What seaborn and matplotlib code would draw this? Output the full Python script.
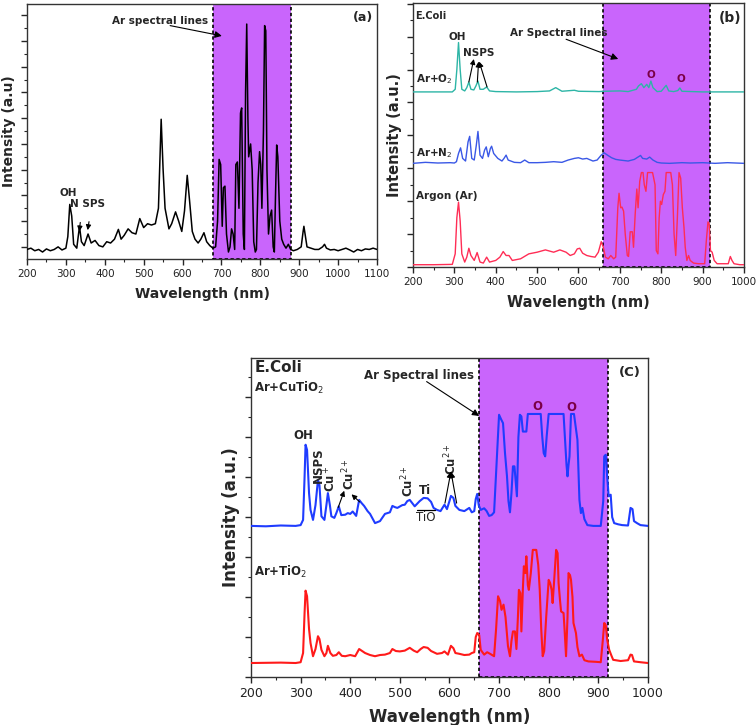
import numpy as np
import pandas as pd
import seaborn as sns
import matplotlib.pyplot as plt
from matplotlib.ticker import MultipleLocator

# ---- panel (a): Ar plasma, black trace ----
wl_a = [200, 210, 220, 230, 240, 250, 260, 270, 280, 290, 300, 305, 310, 315, 320, 328, 335, 340, 347,
        357, 365, 375, 385, 395, 405, 415, 425, 435, 442, 450, 460, 470, 480, 490, 500, 510, 520, 530,
        538, 545, 550, 555, 565, 572, 582, 590, 598, 605, 612, 618, 625, 632, 640, 647, 655, 662, 670,
        678, 685, 690, 694, 698, 702, 705, 709, 713, 718, 722, 726, 730, 734, 737, 741, 745, 749, 752,
        756, 759, 762, 765, 768, 770, 775, 779, 783, 787, 790, 794, 798, 801, 804, 808, 811, 814, 817,
        821, 825, 829, 833, 836, 839, 842, 845, 850, 855, 860, 866, 872, 878, 885, 895, 905, 910, 912,
        915, 920, 930, 940, 950, 960, 965, 970, 980, 990, 1000, 1010, 1020, 1030, 1040, 1050, 1060,
        1070, 1080, 1090, 1100]
int_a = [-0.1, -0.05, -0.15, -0.1, -0.2, -0.08, -0.15, -0.1, 0.0, -0.12, -0.05, 0.4, 1.65, 1.2, 0.1,
         -0.05, 0.8, 0.2, 0.05, 0.5, 0.15, 0.25, 0.05, 0.0, 0.2, 0.15, 0.3, 0.68, 0.3, 0.45, 0.7, 0.55,
         0.5, 1.1, 0.75, 0.9, 0.85, 0.9, 1.5, 4.96, 3.0, 1.5, 0.7, 0.9, 1.36, 1.0, 0.6, 1.4, 2.78, 1.8,
         0.6, 0.3, 0.15, 0.3, 0.55, 0.2, 0.05, -0.05, 0.0, 1.0, 3.4, 3.2, 0.8, 2.3, 2.36, 0.5, -0.2,
         0.0, 0.7, 0.5, -0.1, 3.2, 3.3, 1.5, 5.2, 5.4, 0.5, -0.1, 6.0, 8.66, 5.0, 3.5, 4.0, 3.0, 0.2,
         -0.2, -0.1, 2.5, 3.7, 3.2, 1.5, 4.5, 8.6, 8.4, 3.0, 0.5, 1.2, 1.43, 0.0, -0.2, 2.0, 3.96, 3.5,
         1.0, 0.3, 0.1, -0.05, 0.1, -0.1, -0.15, -0.1, 0.0, 0.6, 0.8, 0.5, 0.0, -0.05, -0.1, -0.1, 0.0,
         0.1, -0.05, -0.12, -0.1, -0.15, -0.1, -0.05, -0.12, -0.2, -0.1, -0.15, -0.08, -0.1, -0.05, -0.1]

# ---- panel (b): E.Coli with Ar+O2, Ar+N2, Ar ----
wl_o2 = [200, 295, 302, 306, 310, 314, 318, 325, 330, 335, 340, 347, 352, 357, 362, 370, 378, 385, 400,
         450, 500, 530, 545, 560, 590, 600, 650, 660, 700, 720, 740, 745, 752, 758, 765, 770, 775, 780,
         790, 800, 812, 818, 830, 840, 845, 850, 900, 1000]
int_o2 = [5.32, 5.32, 5.4, 6.0, 6.82, 6.0, 5.4, 5.35, 5.45, 5.62, 5.4, 5.38, 5.5, 5.65, 5.4, 5.4, 5.47,
          5.35, 5.33, 5.32, 5.33, 5.35, 5.45, 5.34, 5.37, 5.34, 5.33, 5.34, 5.35, 5.33, 5.4, 5.5, 5.57,
          5.45, 5.55, 5.45, 5.65, 5.45, 5.33, 5.34, 5.52, 5.35, 5.33, 5.36, 5.44, 5.34, 5.32, 5.32]

wl_n2 = [200, 230, 260, 290, 300, 305, 310, 315, 320, 327, 333, 337, 342, 348, 353, 357, 362, 368, 373,
         377, 382, 387, 390, 395, 405, 415, 420, 425, 430, 445, 460, 470, 480, 500, 520, 540, 560, 575,
         590, 600, 610, 620, 635, 645, 655, 662, 670, 680, 690, 700, 720, 735, 745, 750, 755, 765, 772,
         780, 790, 800, 820, 850, 870, 900, 930, 960, 1000]
int_n2 = [3.15, 3.18, 3.16, 3.17, 3.16, 3.2, 3.45, 3.62, 3.3, 3.22, 3.8, 3.97, 3.3, 3.25, 3.7, 4.12, 3.4,
          3.3, 3.55, 3.65, 3.35, 3.6, 3.67, 3.45, 3.3, 3.22, 3.3, 3.4, 3.25, 3.18, 3.17, 3.25, 3.17, 3.17,
          3.18, 3.2, 3.18, 3.25, 3.3, 3.32, 3.28, 3.3, 3.22, 3.25, 3.4, 3.47, 3.4, 3.32, 3.27, 3.25, 3.22,
          3.27, 3.35, 3.39, 3.3, 3.28, 3.34, 3.25, 3.18, 3.16, 3.15, 3.17, 3.16, 3.17, 3.15, 3.17, 3.15]

wl_ar = [200, 250, 295, 302, 306, 310, 314, 318, 325, 330, 335, 340, 348, 355, 362, 370, 378, 385, 400,
         410, 418, 425, 432, 440, 460, 480, 500, 520, 540, 555, 570, 580, 590, 597, 603, 610, 620, 630,
         640, 648, 655, 660, 665, 672, 678, 685, 690, 695, 698, 702, 705, 709, 713, 718, 721, 725, 730,
         733, 737, 741, 744, 748, 752, 756, 759, 763, 767, 773, 779, 785, 788, 792, 795, 798, 801, 805,
         809, 812, 818, 823, 827, 831, 835, 839, 843, 847, 851, 855, 858, 862, 866, 870, 878, 890, 905,
         909, 913, 916, 919, 923, 928, 935, 950, 962, 967, 971, 976, 990, 1000]
int_ar = [0.07, 0.07, 0.08, 0.4, 1.5, 1.97, 1.4, 0.4, 0.15, 0.3, 0.57, 0.35, 0.2, 0.44, 0.15, 0.12, 0.3,
          0.15, 0.2, 0.3, 0.47, 0.35, 0.35, 0.2, 0.25, 0.4, 0.45, 0.52, 0.45, 0.52, 0.45, 0.35, 0.4, 0.55,
          0.57, 0.42, 0.35, 0.32, 0.3, 0.45, 0.77, 0.6, 0.3, 0.25, 0.35, 0.25, 0.3, 1.8, 2.24, 1.8, 1.82,
          1.7, 1.0, 0.35, 0.32, 1.07, 1.07, 0.6, 1.6, 2.37, 1.8, 2.6, 2.87, 2.87, 2.5, 2.3, 2.87, 2.87,
          2.87, 2.5, 0.5, 0.4, 1.5, 2.0, 1.9, 2.2, 2.3, 2.87, 2.87, 2.87, 2.5, 1.0, 0.35, 1.5, 2.87, 2.7,
          1.8, 1.2, 0.6, 0.2, 0.35, 0.2, 0.12, 0.1, 0.1, 0.8, 1.37, 1.3, 0.5, 0.45, 0.2, 0.1, 0.1, 0.1,
          0.32, 0.2, 0.1, 0.07, 0.07]

# ---- panel (c): E.Coli with Ar+CuTiO2, Ar+TiO2 ----
wl_cu = [200, 230, 260, 290, 300, 305, 308, 310, 313, 317, 320, 325, 330, 335, 338, 342, 348, 352, 355,
         359, 362, 368, 372, 377, 382, 390, 395, 400, 405, 412, 418, 423, 428, 435, 440, 450, 460, 470,
         480, 485, 490, 495, 505, 510, 515, 520, 525, 530, 540, 548, 556, 563, 568, 575, 582, 590, 595,
         600, 603, 608, 612, 620, 630, 640, 645, 650, 653, 656, 659, 663, 670, 675, 680, 685, 690, 695,
         700, 704, 708, 712, 716, 719, 722, 725, 728, 731, 734, 736, 739, 742, 745, 748, 752, 755, 758,
         770, 784, 787, 790, 793, 796, 800, 812, 830, 833, 836, 838, 840, 842, 845, 851, 854, 858, 862,
         865, 868, 872, 878, 890, 905, 910, 912, 915, 918, 921, 925, 928, 932, 940, 948, 960, 965, 969,
         972, 978, 985, 1000]
int_cu = [3.78, 3.77, 3.79, 3.78, 3.8, 3.93, 5.0, 5.81, 5.68, 4.6, 4.18, 3.93, 4.3, 4.93, 4.8, 4.02,
          3.93, 4.3, 4.6, 4.3, 4.02, 3.98, 4.1, 4.27, 4.05, 4.06, 4.1, 4.08, 4.14, 4.03, 4.43, 4.35, 4.28,
          4.15, 4.08, 3.85, 3.9, 4.08, 4.12, 4.28, 4.25, 4.23, 4.3, 4.31, 4.4, 4.43, 4.35, 4.27, 4.4, 4.48,
          4.47, 4.38, 4.23, 4.18, 4.15, 4.31, 4.2, 4.4, 4.53, 4.48, 4.28, 4.18, 4.15, 4.23, 4.12, 4.15,
          4.45, 4.58, 4.3, 4.18, 4.22, 4.15, 4.03, 4.05, 4.12, 5.35, 6.56, 6.45, 6.35, 5.6, 5.02, 4.4,
          4.12, 4.6, 5.27, 5.27, 4.8, 4.52, 6.0, 6.56, 6.52, 6.14, 6.14, 6.14, 6.58, 6.58, 6.58, 6.02,
          5.6, 5.52, 6.02, 6.58, 6.58, 6.58, 5.93, 5.3, 5.02, 5.3, 5.52, 6.58, 6.58, 6.3, 5.93, 4.43, 4.1,
          4.23, 3.95, 3.8, 3.78, 3.78, 4.4, 5.52, 5.56, 5.0, 4.52, 4.56, 4.0, 3.85, 3.82, 3.8, 3.79, 4.23,
          4.2, 3.9, 3.85, 3.8, 3.78]

wl_ti = [200, 260, 290, 300, 305, 308, 310, 313, 317, 320, 325, 330, 335, 338, 342, 348, 352, 355, 360,
         365, 372, 377, 383, 390, 400, 410, 418, 424, 430, 440, 450, 460, 470, 480, 485, 492, 500, 510,
         520, 528, 535, 542, 548, 556, 563, 575, 585, 590, 597, 603, 608, 612, 620, 630, 640, 645, 650,
         653, 656, 660, 663, 670, 676, 682, 690, 694, 698, 702, 705, 709, 713, 718, 722, 725, 728, 732,
         735, 738, 740, 743, 745, 748, 750, 753, 755, 758, 760, 764, 768, 775, 779, 782, 785, 788, 791,
         795, 800, 803, 806, 808, 811, 815, 818, 820, 823, 825, 830, 832, 835, 838, 840, 843, 845, 848,
         850, 855, 858, 862, 867, 872, 880, 895, 905, 909, 912, 915, 918, 922, 926, 930, 945, 960, 965,
         968, 972, 985, 1000]
int_ti = [0.35, 0.36, 0.35, 0.37, 0.6, 1.6, 2.16, 2.02, 1.2, 0.85, 0.52, 0.7, 1.02, 0.95, 0.68, 0.52,
          0.6, 0.78, 0.6, 0.53, 0.55, 0.62, 0.53, 0.52, 0.55, 0.52, 0.7, 0.65, 0.6, 0.55, 0.52, 0.55,
          0.56, 0.6, 0.7, 0.65, 0.64, 0.66, 0.73, 0.66, 0.62, 0.7, 0.75, 0.73, 0.65, 0.58, 0.6, 0.64,
          0.56, 0.78, 0.72, 0.6, 0.58, 0.55, 0.56, 0.6, 0.62, 1.0, 1.1, 1.05, 0.68, 0.56, 0.62, 0.58,
          0.52, 1.2, 2.02, 1.9, 1.68, 1.81, 1.5, 0.77, 0.52, 0.9, 1.14, 1.14, 0.7, 1.5, 2.18, 2.1, 1.14,
          2.2, 2.77, 2.6, 3.02, 2.3, 2.18, 2.6, 3.18, 3.18, 2.8, 2.18, 1.2, 0.52, 0.65, 1.5, 2.43, 2.35,
          2.18, 1.85, 2.4, 3.18, 3.1, 2.35, 1.9, 1.64, 1.6, 1.2, 0.52, 1.5, 2.6, 2.55, 2.43, 2.0, 1.35,
          1.1, 0.75, 0.52, 0.56, 0.42, 0.39, 0.38, 0.37, 0.9, 1.35, 1.3, 0.93, 0.68, 0.55, 0.43, 0.4,
          0.42, 0.56, 0.55, 0.39, 0.37, 0.35]

ar_band_a = (678, 880)
ar_band_b = (660, 918)
ar_band_c = (660, 920)

span_color = "#c965fc"
tick_color = "#222222"

sns.set_style("ticks")
plt.rcParams["font.family"] = ["DejaVu Sans"]

fig = plt.figure(figsize=(7.56, 7.25), dpi=100)
ax_a = fig.add_axes([0.0357, 0.6428, 0.463, 0.3517])
ax_b = fig.add_axes([0.5463, 0.6317, 0.4378, 0.3641])
ax_c = fig.add_axes([0.332, 0.0662, 0.525, 0.440])


def style_axis(ax, xlim, ylim, xticks, tick_fs, ylabel, label_fs):
    ax.set_xlim(*xlim)
    ax.set_ylim(*ylim)
    ax.set_xticks(xticks)
    ax.xaxis.set_minor_locator(MultipleLocator(50))
    ax.yaxis.set_major_locator(MultipleLocator(1))
    ax.yaxis.set_minor_locator(MultipleLocator(0.5))
    ax.tick_params(axis="y", which="both", labelleft=False)
    ax.tick_params(which="major", length=4, width=1, direction="out")
    ax.tick_params(which="minor", length=2.5, width=0.8, direction="out")
    ax.tick_params(axis="x", labelsize=tick_fs, labelcolor=tick_color, pad=3)
    for s in ax.spines.values():
        s.set_visible(True)
        s.set_linewidth(1.0)
        s.set_color("#333333")
    ax.set_xlabel("Wavelength (nm)", fontsize=label_fs, fontweight="bold", labelpad=6)
    ax.set_ylabel(ylabel, fontsize=label_fs, fontweight="bold", labelpad=4)


def ar_band(ax, band):
    ax.axvspan(band[0], band[1], facecolor=span_color, edgecolor="black",
               linestyle=(0, (2, 1.5)), linewidth=1.2, zorder=1)


def arrow(ax, tail, tip, lw=0.8, hw=0.2, hl=0.4):
    ax.annotate("", xy=tip, xytext=tail,
                arrowprops=dict(arrowstyle=f"-|>,head_width={hw},head_length={hl}",
                                color="black", lw=lw, shrinkA=0, shrinkB=0), zorder=5)


# ---------------- (a) ----------------
ar_band(ax_a, ar_band_a)
sns.lineplot(x=wl_a, y=int_a, ax=ax_a, color="black", linewidth=1.1, zorder=3)
style_axis(ax_a, (200, 1100), (-0.47, 9.44), list(range(200, 1101, 100)), 7.5,
           "Intensity (a.u)", 10)
ax_a.text(1065, 8.92, "(a)", fontsize=9, fontweight="bold", ha="center", va="center")
ax_a.text(543, 8.77, "Ar spectral lines", fontsize=7.5, fontweight="bold", ha="center", va="center")
arrow(ax_a, (568, 8.6), (701, 8.2))
ax_a.text(307, 2.1, "OH", fontsize=7.5, fontweight="bold", ha="center", va="center")
ax_a.text(356, 1.65, "N SPS", fontsize=7.5, fontweight="bold", ha="center", va="center")
arrow(ax_a, (337, 0.95), (334.5, 0.6), hw=0.15, hl=0.3)
arrow(ax_a, (359.5, 0.98), (356, 0.65), hw=0.15, hl=0.3)

# ---------------- (b) ----------------
ar_band(ax_b, ar_band_b)
sns.lineplot(x=wl_o2, y=int_o2, ax=ax_b, color="#2db5a6", linewidth=1.0, zorder=3)
sns.lineplot(x=wl_n2, y=int_n2, ax=ax_b, color="#3a58e6", linewidth=1.0, zorder=3)
sns.lineplot(x=wl_ar, y=int_ar, ax=ax_b, color="#ff2d55", linewidth=1.0, zorder=3)
style_axis(ax_b, (200, 1000), (0, 8.02), list(range(200, 1001, 100)), 7.5,
           "Intensity (a.u.)", 10.5)
ax_b.text(204, 7.62, "E.Coli", fontsize=7, fontweight="bold", ha="left", va="center")
ax_b.text(967, 7.57, "(b)", fontsize=10, fontweight="bold", ha="center", va="center")
ax_b.text(553, 7.12, "Ar Spectral lines", fontsize=7.5, fontweight="bold", ha="center", va="center")
arrow(ax_b, (570, 6.92), (696, 6.32))
ax_b.text(306, 7.0, "OH", fontsize=7.5, fontweight="bold", ha="center", va="center")
ax_b.text(359, 6.49, "NSPS", fontsize=7.5, fontweight="bold", ha="center", va="center")
arrow(ax_b, (335, 5.62), (347, 6.32), hw=0.15, hl=0.3)
arrow(ax_b, (355.5, 5.62), (358.5, 6.24), hw=0.15, hl=0.3)
arrow(ax_b, (379, 5.47), (360, 6.24), hw=0.15, hl=0.3)
ax_b.text(776, 5.84, "O", fontsize=7.5, fontweight="bold", color="#7a0045", ha="center", va="center")
ax_b.text(847, 5.72, "O", fontsize=7.5, fontweight="bold", color="#7a0045", ha="center", va="center")
ax_b.text(208, 5.7, "Ar+O$_2$", fontsize=7.5, fontweight="bold", ha="left", va="center")
ax_b.text(208, 3.47, "Ar+N$_2$", fontsize=7.5, fontweight="bold", ha="left", va="center")
ax_b.text(208, 2.17, "Argon (Ar)", fontsize=7.5, fontweight="bold", ha="left", va="center")

# ---------------- (c) ----------------
ar_band(ax_c, ar_band_c)
sns.lineplot(x=wl_cu, y=int_cu, ax=ax_c, color="#1f3cff", linewidth=1.5, zorder=3)
sns.lineplot(x=wl_ti, y=int_ti, ax=ax_c, color="#ff1a1a", linewidth=1.5, zorder=3)
style_axis(ax_c, (200, 1000), (0, 7.98), list(range(200, 1001, 100)), 9,
           "Intensity (a.u.)", 12)
ax_c.text(207, 7.73, "E.Coli", fontsize=11, fontweight="bold", ha="left", va="center")
ax_c.text(206, 7.22, "Ar+CuTiO$_2$", fontsize=8.5, fontweight="bold", ha="left", va="center")
ax_c.text(539, 7.54, "Ar Spectral lines", fontsize=8.5, fontweight="bold", ha="center", va="center")
arrow(ax_c, (554, 7.39), (660, 6.53))
ax_c.text(963, 7.62, "(C)", fontsize=9.5, fontweight="bold", ha="center", va="center")
ax_c.text(777, 6.77, "O", fontsize=8.5, fontweight="bold", color="#7a0045", ha="center", va="center")
ax_c.text(845, 6.75, "O", fontsize=8.5, fontweight="bold", color="#7a0045", ha="center", va="center")
ax_c.text(305, 6.03, "OH", fontsize=8.5, fontweight="bold", ha="center", va="center")
ax_c.text(336, 5.3, "NSPS", fontsize=8.5, fontweight="bold", rotation=90, ha="center", va="center")
ax_c.text(361, 4.95, "Cu$^+$", fontsize=8.5, fontweight="bold", rotation=90, ha="center", va="center")
ax_c.text(398, 5.08, "Cu$^{2+}$", fontsize=8.5, fontweight="bold", rotation=90, ha="center", va="center")
arrow(ax_c, (375.7, 4.24), (388, 4.66), hw=0.15, hl=0.3)
arrow(ax_c, (419, 4.38), (402.6, 4.57), hw=0.15, hl=0.3)
ax_c.text(517, 4.9, "Cu$^{2+}$", fontsize=8.5, fontweight="bold", rotation=90, ha="center", va="center")
ax_c.text(551, 4.67, "Ti", fontsize=8.5, fontweight="bold", ha="center", va="center")
ax_c.text(553, 3.99, "TiO", fontsize=8.5, ha="center", va="center")
ax_c.plot([534, 571], [4.18, 4.18], color="black", linewidth=0.9, zorder=5)
ax_c.text(604, 5.45, "Cu$^{2+}$", fontsize=8.5, fontweight="bold", rotation=90, ha="center", va="center")
arrow(ax_c, (591, 4.35), (603, 5.14), hw=0.18, hl=0.35)
arrow(ax_c, (614.5, 4.35), (603, 5.14), hw=0.18, hl=0.35)
ax_c.text(206, 2.64, "Ar+TiO$_2$", fontsize=8.5, fontweight="bold", ha="left", va="center")

fig.savefig("out.png", dpi=100)
